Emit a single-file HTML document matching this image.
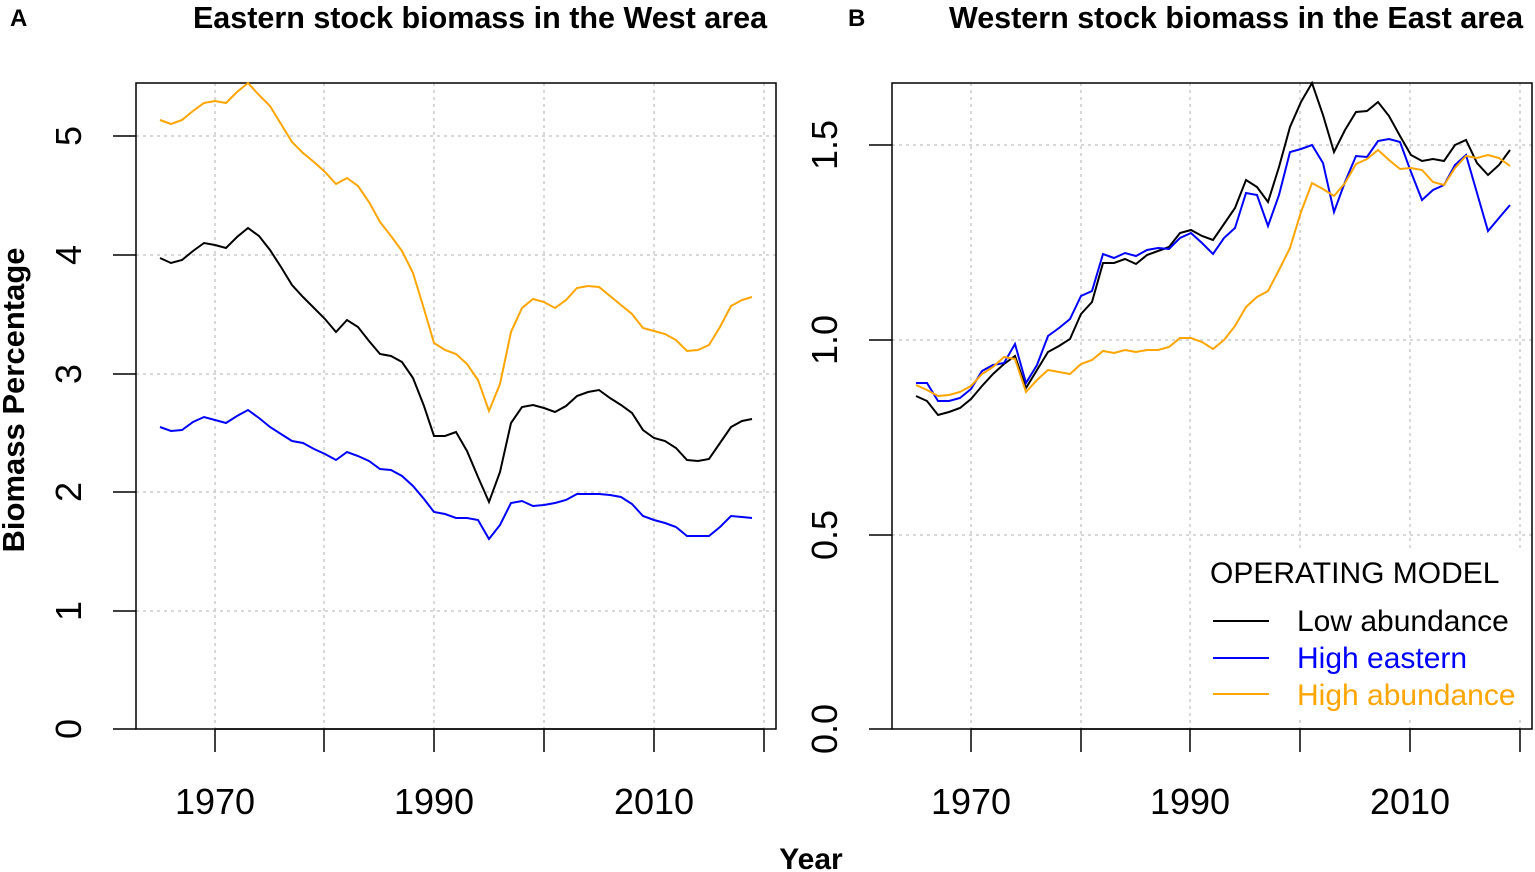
<!DOCTYPE html>
<html><head><meta charset="utf-8"><style>
html,body{margin:0;padding:0;background:#fff}
svg{display:block;font-family:"Liberation Sans",Arial,sans-serif}
.g{stroke:#ccc;stroke-width:1.5;stroke-dasharray:3,4;fill:none}
.ax{stroke:#000;stroke-width:1.5;fill:none}
.tk{font-size:36px}
.ln{fill:none;stroke-width:2}
</style></head><body>
<svg width="1535" height="872" viewBox="0 0 1535 872">
<!-- Panel A -->
<text x="10" y="26" font-size="24" font-weight="bold">A</text>
<text x="480" y="28" font-size="30.5" font-weight="bold" text-anchor="middle">Eastern stock biomass in the West area</text>
<g class="g">
<line x1="215" y1="83" x2="215" y2="729"/><line x1="324" y1="83" x2="324" y2="729"/><line x1="434" y1="83" x2="434" y2="729"/><line x1="544" y1="83" x2="544" y2="729"/><line x1="654" y1="83" x2="654" y2="729"/><line x1="764" y1="83" x2="764" y2="729"/>
<line x1="136" y1="611" x2="776" y2="611"/><line x1="136" y1="492" x2="776" y2="492"/><line x1="136" y1="374" x2="776" y2="374"/><line x1="136" y1="255" x2="776" y2="255"/><line x1="136" y1="136" x2="776" y2="136"/>
</g>
<rect x="136" y="83" width="640" height="646" class="ax"/>
<g class="ax">
<line x1="215" y1="729" x2="764" y2="729"/>
<line x1="215" y1="729" x2="215" y2="752"/><line x1="324" y1="729" x2="324" y2="752"/><line x1="434" y1="729" x2="434" y2="752"/><line x1="544" y1="729" x2="544" y2="752"/><line x1="654" y1="729" x2="654" y2="752"/><line x1="764" y1="729" x2="764" y2="752"/>
<line x1="113" y1="729" x2="136" y2="729"/><line x1="113" y1="611" x2="136" y2="611"/><line x1="113" y1="492" x2="136" y2="492"/><line x1="113" y1="374" x2="136" y2="374"/><line x1="113" y1="255" x2="136" y2="255"/><line x1="113" y1="136" x2="136" y2="136"/>
</g>
<g class="tk" text-anchor="middle">
<text x="215" y="814">1970</text><text x="434" y="814">1990</text><text x="654" y="814">2010</text>
<text transform="translate(81,729) rotate(-90)">0</text><text transform="translate(81,611) rotate(-90)">1</text><text transform="translate(81,492) rotate(-90)">2</text><text transform="translate(81,374) rotate(-90)">3</text><text transform="translate(81,255) rotate(-90)">4</text><text transform="translate(81,136) rotate(-90)">5</text>
</g>
<text transform="translate(24,400) rotate(-90)" font-size="31" font-weight="bold" text-anchor="middle">Biomass Percentage</text>
<polyline class="ln" stroke="#FFA500" points="160,120 171,124 182,120 193,111 204,103 215,101 226,103 237,92 248,83 259,95 270,106 281,124 292,142 303,153 314,162 325,172 336,184 347,178 358,186 369,202 380,222 391,236 402,251 413,273 424,309 434,343 445,350 456,354 467,364 478,380 489,411 500,384 511,332 522,308 533,299 544,302 555,308 566,300 577,288 588,286 599,287 610,296 621,305 632,314 643,328 654,331 665,334 676,340 687,351 698,350 709,345 720,327 731,306 742,300 752,297"/>
<polyline class="ln" stroke="#000" points="160,258 171,263 182,260 193,251 204,243 215,245 226,248 237,237 248,228 259,236 270,250 281,267 292,285 303,297 314,308 325,319 336,332 347,320 358,327 369,341 380,354 391,356 402,362 413,378 424,406 434,436 445,436 456,432 467,451 478,477 489,502 500,472 511,423 522,407 533,405 544,408 555,412 566,406 577,396 588,392 599,390 610,398 621,405 632,413 643,430 654,438 665,441 676,448 687,460 698,461 709,459 720,443 731,427 742,421 752,419"/>
<polyline class="ln" stroke="#0000FF" points="160,427 171,431 182,430 193,422 204,417 215,420 226,423 237,416 248,410 259,418 270,427 281,434 292,441 303,443 314,449 325,454 336,460 347,452 358,456 369,461 380,469 391,470 402,476 413,486 424,499 434,512 445,514 456,518 467,518 478,520 489,539 500,525 511,503 522,501 533,506 544,505 555,503 566,500 577,494 588,494 599,494 610,495 621,497 632,504 643,516 654,520 665,523 676,527 687,536 698,536 709,536 720,527 731,516 742,517 752,518"/>

<!-- Panel B -->
<text x="848" y="26" font-size="24" font-weight="bold">B</text>
<text x="1236" y="28" font-size="30.5" font-weight="bold" text-anchor="middle">Western stock biomass in the East area</text>
<g class="g">
<line x1="971" y1="83" x2="971" y2="729"/><line x1="1081" y1="83" x2="1081" y2="729"/><line x1="1190" y1="83" x2="1190" y2="729"/><line x1="1300" y1="83" x2="1300" y2="729"/><line x1="1410" y1="83" x2="1410" y2="729"/><line x1="1520" y1="83" x2="1520" y2="729"/>
<line x1="892" y1="535" x2="1532" y2="535"/><line x1="892" y1="340" x2="1532" y2="340"/><line x1="892" y1="145" x2="1532" y2="145"/>
</g>
<rect x="892" y="83" width="640" height="646" class="ax"/>
<g class="ax">
<line x1="971" y1="729" x2="1520" y2="729"/>
<line x1="971" y1="729" x2="971" y2="752"/><line x1="1081" y1="729" x2="1081" y2="752"/><line x1="1190" y1="729" x2="1190" y2="752"/><line x1="1300" y1="729" x2="1300" y2="752"/><line x1="1410" y1="729" x2="1410" y2="752"/><line x1="1520" y1="729" x2="1520" y2="752"/>
<line x1="869" y1="729" x2="892" y2="729"/><line x1="869" y1="535" x2="892" y2="535"/><line x1="869" y1="340" x2="892" y2="340"/><line x1="869" y1="145" x2="892" y2="145"/>
</g>
<g class="tk" text-anchor="middle">
<text x="971" y="814">1970</text><text x="1190" y="814">1990</text><text x="1410" y="814">2010</text>
<text transform="translate(837,729) rotate(-90)">0.0</text><text transform="translate(837,535) rotate(-90)">0.5</text><text transform="translate(837,340) rotate(-90)">1.0</text><text transform="translate(837,145) rotate(-90)">1.5</text>
</g>
<polyline class="ln" stroke="#000" points="916,396 927,401 938,415 949,412 960,408 971,399 982,386 993,374 1004,364 1015,356 1026,388 1037,370 1048,352 1059,346 1070,339 1081,314 1092,302 1103,263 1114,263 1125,259 1136,264 1147,255 1158,251 1169,247 1180,233 1191,230 1202,236 1213,240 1224,224 1235,208 1246,180 1257,187 1268,202 1279,167 1290,127 1301,102 1312,83 1323,115 1334,152 1345,130 1356,112 1367,111 1378,102 1389,116 1400,136 1411,155 1422,161 1433,159 1444,161 1455,145 1466,140 1477,163 1488,175 1499,165 1510,150"/>
<polyline class="ln" stroke="#0000FF" points="916,383 927,383 938,401 949,401 960,398 971,389 982,371 993,365 1004,363 1015,344 1026,383 1037,365 1048,336 1059,328 1070,319 1081,296 1092,291 1103,254 1114,258 1125,253 1136,256 1147,250 1158,248 1169,249 1180,238 1191,233 1202,243 1213,254 1224,238 1235,228 1246,193 1257,195 1268,226 1279,195 1290,152 1301,149 1312,145 1323,163 1334,212 1345,182 1356,156 1367,157 1378,141 1389,139 1400,142 1411,172 1422,200 1433,190 1444,185 1455,165 1466,155 1477,193 1488,231 1499,218 1510,205"/>
<polyline class="ln" stroke="#FFA500" points="916,385 927,390 938,396 949,395 960,392 971,386 982,374 993,367 1004,357 1015,359 1026,392 1037,380 1048,370 1059,372 1070,374 1081,364 1092,360 1103,351 1114,353 1125,350 1136,352 1147,350 1158,350 1169,347 1180,338 1191,338 1202,342 1213,349 1224,340 1235,326 1246,307 1257,297 1268,291 1279,270 1290,248 1301,212 1312,183 1323,189 1334,196 1345,183 1356,164 1367,159 1378,150 1389,160 1400,169 1411,168 1422,170 1433,182 1444,185 1455,168 1466,156 1477,158 1488,155 1499,158 1510,166"/>
<!-- legend -->
<rect x="1200" y="550" width="330" height="170" fill="#fff"/>
<text x="1210" y="583" font-size="30">OPERATING MODEL</text>
<line x1="1213" y1="621" x2="1269" y2="621" stroke="#000" stroke-width="2"/>
<line x1="1213" y1="658" x2="1269" y2="658" stroke="#0000FF" stroke-width="2"/>
<line x1="1213" y1="694" x2="1269" y2="694" stroke="#FFA500" stroke-width="2"/>
<text x="1297" y="631" font-size="30">Low abundance</text>
<text x="1297" y="668" font-size="30" fill="#0000FF">High eastern</text>
<text x="1297" y="705" font-size="30" fill="#FFA500">High abundance</text>

<text x="811" y="869" font-size="30" font-weight="bold" text-anchor="middle">Year</text>
</svg>
</body></html>
